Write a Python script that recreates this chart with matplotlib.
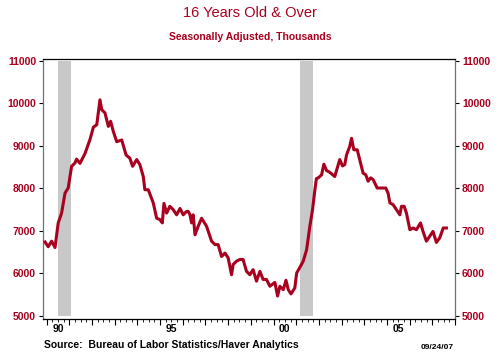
import numpy as np
import matplotlib
matplotlib.use('Agg')
import matplotlib.pyplot as plt
import matplotlib.transforms as mtransforms

plt.rcParams['font.family'] = ['Liberation Sans', 'DejaVu Sans']

# Fechas en años decimales y valores (miles)
fechas = [1989.93, 1990.07, 1990.22, 1990.37, 1990.51, 1990.66, 1990.81, 1990.95,
          1991.10, 1991.25, 1991.32, 1991.47, 1991.69, 1991.91, 1992.06, 1992.21,
          1992.35, 1992.43, 1992.57, 1992.72, 1992.82, 1992.94, 1993.09, 1993.31,
          1993.50, 1993.67, 1993.79, 1993.97, 1994.11, 1994.26, 1994.33, 1994.48,
          1994.70, 1994.85, 1994.99, 1995.10, 1995.17, 1995.29, 1995.43, 1995.58,
          1995.73, 1995.88, 1996.02, 1996.17, 1996.24, 1996.32, 1996.39, 1996.46,
          1996.54, 1996.68, 1996.83, 1997.05, 1997.27, 1997.42, 1997.56, 1997.71,
          1997.86, 1998.00, 1998.15, 1998.22, 1998.37, 1998.52, 1998.66, 1998.81,
          1998.96, 1999.10, 1999.25, 1999.40, 1999.54, 1999.69, 1999.84, 2000.06,
          2000.18, 2000.28, 2000.43, 2000.55, 2000.65, 2000.77, 2000.94, 2001.02,
          2001.19, 2001.31, 2001.46, 2001.60, 2001.72, 2001.82, 2001.89, 2001.97,
          2002.04, 2002.12, 2002.22, 2002.34, 2002.48, 2002.70, 2002.92, 2003.04,
          2003.14, 2003.22, 2003.36, 2003.44, 2003.54, 2003.69, 2003.80, 2003.95,
          2004.07, 2004.17, 2004.28, 2004.39, 2004.57, 2004.76, 2004.95, 2005.05,
          2005.13, 2005.27, 2005.42, 2005.57, 2005.64, 2005.76, 2005.86, 2006.01,
          2006.16, 2006.30, 2006.48, 2006.59, 2006.74, 2006.89, 2007.03, 2007.18,
          2007.33, 2007.48, 2007.62]
valores = [6740, 6630, 6760, 6610, 7190, 7420, 7890, 8010,
           8520, 8600, 8690, 8590, 8820, 9150, 9440, 9500,
           10085, 9850, 9780, 9460, 9580, 9340, 9100,
           9140, 8790, 8710, 8520, 8680, 8560, 8280, 7970, 7970,
           7660, 7300, 7270, 7190, 7650, 7420, 7580, 7500,
           7380, 7530, 7380, 7460, 7460, 7380, 7190, 7380,
           6910, 7110, 7300, 7110, 6760, 6680, 6680, 6400,
           6480, 6370, 5970, 6210, 6290, 6330, 6330, 6050,
           5970, 6090, 5820, 6050, 5860, 5860, 5700, 5790,
           5470, 5700, 5620, 5840, 5620, 5520, 5660, 6010,
           6170, 6290, 6560, 7100, 7500, 7950, 8230, 8250,
           8280, 8320, 8570, 8420, 8380, 8280, 8680, 8530,
           8560, 8790, 8990, 9180, 8910, 8910, 8680, 8360,
           8320, 8170, 8250, 8210, 8010, 8010, 8010, 7890,
           7660, 7620, 7500, 7380, 7580, 7580, 7420, 7030,
           7070, 7030, 7190, 6990, 6760, 6880, 6990, 6730,
           6840, 7070, 7070]
n = min(len(fechas), len(valores))
fechas = fechas[:n]
valores = valores[:n]

# Recesiones (inicio, fin)
recesiones = [(1990.50, 1991.07), (2001.16, 2001.73)]

rojo = '#A8001E'

fig = plt.figure(figsize=(5.0, 3.58), dpi=100)
ax = fig.add_axes([0.086, 0.109, 0.824, 0.725])

for r0, r1 in recesiones:
    ax.fill_between([r0, r1], 5000, 11000, color='#C8C8C8', lw=0, zorder=1)

ax.plot(fechas, valores, color=rojo, lw=2.2, zorder=3, solid_joinstyle='round')

ax.set_xlim(1989.84, 2008.0)
ax.set_ylim(4930, 11035)

# Ejes y
yt = np.arange(5000, 11001, 1000)
ax.set_yticks(yt)
ax.set_yticklabels([str(v) for v in yt], color=rojo, fontsize=7.5, fontweight='bold')
ax.tick_params(axis='y', direction='out', length=3, width=0.8, pad=2,
               right=True, labelright=True)

# Eje x: trimestres y años
ax.set_xticks(np.arange(1990, 2008.01, 1))
ax.set_xticks(np.arange(1990, 2008.01, 0.25), minor=True)
ax.set_xticklabels([])
ax.tick_params(axis='x', which='major', direction='out', length=4, width=0.8)
ax.tick_params(axis='x', which='minor', direction='out', length=2, width=0.6)
trans = mtransforms.blended_transform_factory(ax.transData, ax.transAxes)
for yr, lab in [(1990.5, '90'), (1995.5, '95'), (2000.5, '00'), (2005.5, '05')]:
    ax.text(yr, -0.018, lab, transform=trans, ha='center', va='top',
            fontsize=7.5, fontweight='bold', color='black')

for s in ['left', 'right']:
    ax.spines[s].set_color('#707070')
for s in ax.spines.values():
    s.set_linewidth(0.9)

fig.text(0.5, 0.965, '16 Years Old & Over', ha='center', va='center',
         fontsize=10.5, color=rojo)
fig.text(0.5, 0.897, 'Seasonally Adjusted, Thousands', ha='center', va='center',
         fontsize=7.5, fontweight='bold', color=rojo)
fig.text(0.088, 0.035, 'Source:  Bureau of Labor Statistics/Haver Analytics',
         ha='left', va='center', fontsize=7.5, fontweight='bold')
fig.text(0.908, 0.030, '09/24/07', ha='right', va='center',
         fontsize=6, fontweight='bold')

fig.savefig('out.png', dpi=100)
